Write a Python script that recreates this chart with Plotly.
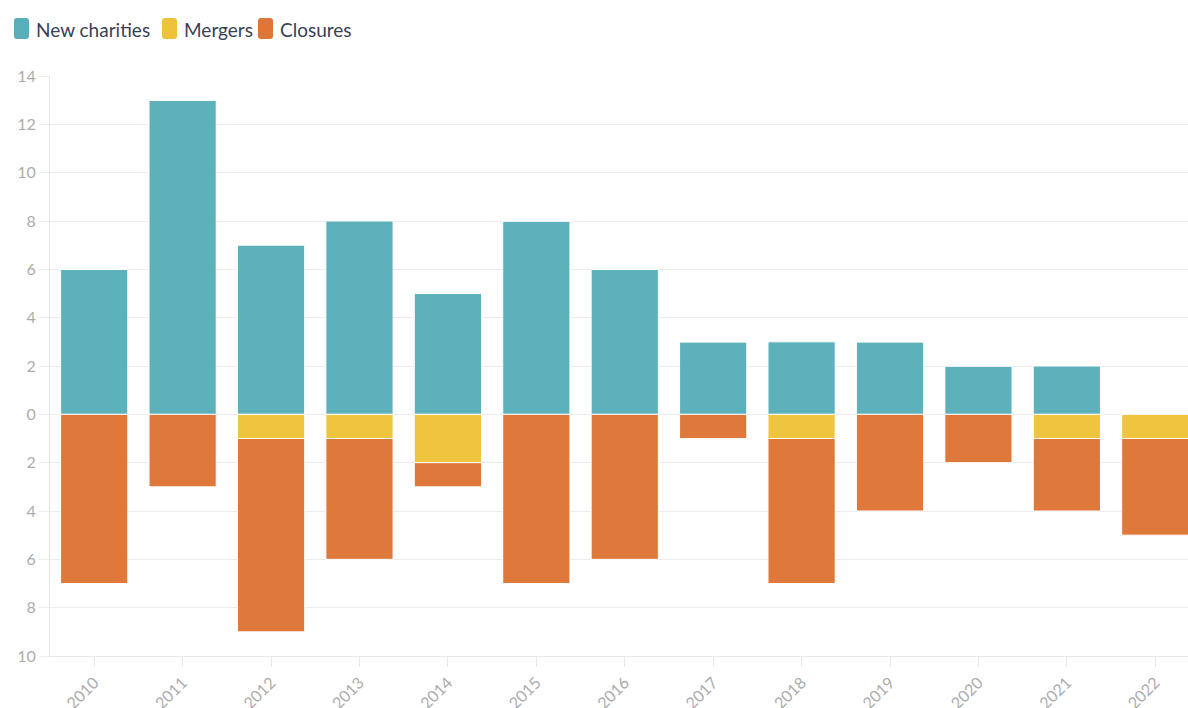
import plotly.graph_objects as go

years = ["2010", "2011", "2012", "2013", "2014", "2015", "2016",
         "2017", "2018", "2019", "2020", "2021", "2022"]
new_charities = [6, 13, 7, 8, 5, 8, 6, 3, 3, 3, 2, 2, 0]
mergers = [0, 0, 1, 1, 2, 0, 0, 0, 1, 0, 0, 1, 1]
closures = [7, 3, 8, 5, 1, 7, 6, 1, 6, 4, 2, 3, 4]

series_names = ["New charities", "Mergers", "Closures"]
series_colors = ["#4FABB5", "#EEC02E", "#DD6E2B"]

y_tickvals = [-10, -8, -6, -4, -2, 0, 2, 4, 6, 8, 10, 12, 14]
y_ticktext = [str(abs(v)) for v in y_tickvals]

fig = go.Figure()
fig.add_trace(go.Bar(name=series_names[0], x=years, y=new_charities,
                     marker=dict(color=series_colors[0], line=dict(color="white", width=1)),
                     opacity=0.92))
fig.add_trace(go.Bar(name=series_names[1], x=years, y=[-v for v in mergers],
                     marker=dict(color=series_colors[1], line=dict(color="white", width=1)),
                     opacity=0.92))
fig.add_trace(go.Bar(name=series_names[2], x=years, y=[-v for v in closures],
                     marker=dict(color=series_colors[2], line=dict(color="white", width=1)),
                     opacity=0.92))

# Custom legend (rounded swatches + labels) placed above the plot, in pixels
# relative to the plot's top-left corner.
legend_swatch_left = [-36, 112, 208]   # px from plot left edge
legend_text_left = [-16, 132, 228]
sw_w, sw_top, sw_bot, r = 15, 58, 37, 3


def rounded_rect(x0, x1, y0, y1, r):
    return (f"M{x0 + r},{y1} L{x1 - r},{y1} Q{x1},{y1} {x1},{y1 - r} "
            f"L{x1},{y0 + r} Q{x1},{y0} {x1 - r},{y0} L{x0 + r},{y0} "
            f"Q{x0},{y0} {x0},{y0 + r} L{x0},{y1 - r} Q{x0},{y1} {x0 + r},{y1} Z")


for name, color, sx, tx in zip(series_names, series_colors,
                               legend_swatch_left, legend_text_left):
    fig.add_shape(type="path", xref="paper", yref="paper",
                  xsizemode="pixel", ysizemode="pixel", xanchor=0, yanchor=1,
                  path=rounded_rect(sx, sx + sw_w, sw_bot, sw_top, r),
                  fillcolor=color, line=dict(width=0), opacity=0.95)
    fig.add_annotation(text=name, xref="paper", yref="paper", x=0, y=1,
                       xanchor="left", yanchor="middle", xshift=tx, yshift=47,
                       showarrow=False,
                       font=dict(size=19, color="#3a3f55",
                                 family="Lato, Noto Sans, sans-serif"))

fig.update_layout(
    width=1188, height=708,
    barmode="relative", bargap=0.24,
    plot_bgcolor="white", paper_bgcolor="white",
    margin=dict(l=50, r=0, t=76, b=52),
    font=dict(family="Lato, Noto Sans, sans-serif", color="#333"),
    showlegend=False,
)
fig.update_xaxes(type="category", range=[-0.5, 12.37], automargin=False,
                 showline=True, linecolor="#e8e8e8", linewidth=1,
                 ticks="outside", tickcolor="#e8e8e8", ticklen=10,
                 tickangle=-45, tickfont=dict(size=16, color="#acacac"),
                 showgrid=False)
fig.update_yaxes(range=[-10, 14], tickvals=y_tickvals, ticktext=y_ticktext,
                 automargin=False,
                 showgrid=True, gridcolor="#ececec", gridwidth=1,
                 zeroline=True, zerolinecolor="#ececec", zerolinewidth=1,
                 showline=True, linecolor="#e8e8e8", linewidth=1,
                 ticks="outside", tickcolor="#ececec", ticklen=10,
                 tickfont=dict(size=16, color="#acacac"))

fig.write_html(
    "out.html",
    config={"displayModeBar": False},
    post_script="document.body.style.margin='0';document.body.style.overflow='hidden';",
)
